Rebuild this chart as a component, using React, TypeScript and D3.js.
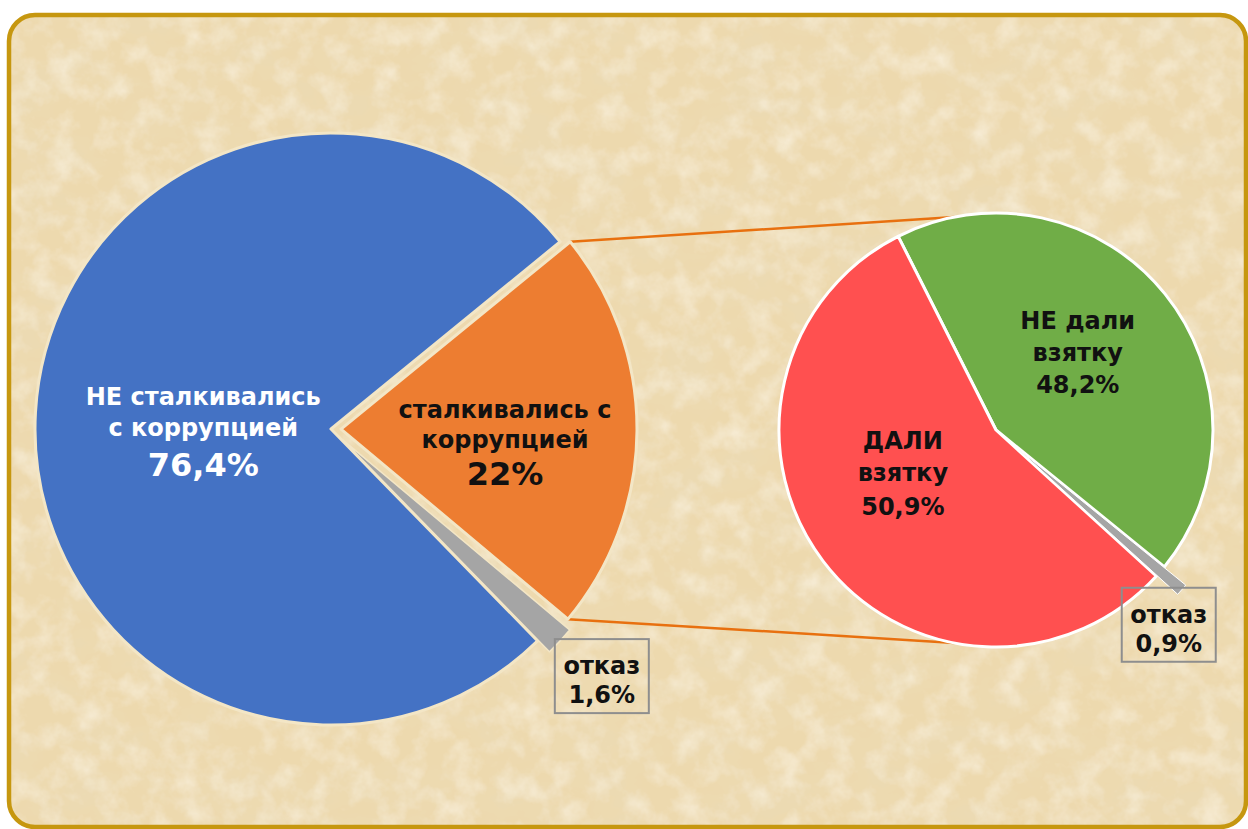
import React from 'react';
import * as d3 from 'd3';

// ---- Data ----
// Main pie: order clockwise from the exploded "other" slice
const mainNames = ['сталкивались с коррупцией', 'отказ', 'НЕ сталкивались с коррупцией'];
const mainValues = [22, 1.6, 76.4];
const mainPercentLabels = ['22%', '1,6%', '76,4%'];
const mainLabelLines = [['сталкивались с', 'коррупцией'], ['отказ'], ['НЕ сталкивались', 'с коррупцией']];

// Secondary pie (breakdown of "сталкивались с коррупцией")
const subNames = ['НЕ дали взятку', 'отказ', 'ДАЛИ взятку'];
const subPercentLabels = ['48,2%', '0,9%', '50,9%'];
// slice sizes as drawn in the picture (percentage labels are printed as above)
const subValues = [43.3, 0.9, 55.8];
const subLabelLines = [['НЕ дали', 'взятку'], ['отказ'], ['ДАЛИ', 'взятку']];

const mainColors = ['#ED7D31', '#A5A5A5', '#4472C4'];
const subColors = ['#70AD47', '#A5A5A5', '#FF5050'];

const FONT = "'DejaVu Sans', Verdana, Tahoma, sans-serif";

export default function App() {
  const W = 1248, H = 829;
  const deg = Math.PI / 180;
  const dir = (a: number) => [Math.sin(a), -Math.cos(a)];

  // main pie
  const C1 = { x: 331, y: 429 };
  const R1 = 296;
  const mainStart = 50.75 * deg;
  const mainPie = d3.pie<number>().sort(null).startAngle(mainStart).endAngle(mainStart + 2 * Math.PI)(mainValues);
  const arc1 = d3.arc<d3.PieArcDatum<number>>().innerRadius(0).outerRadius(R1);
  const mainExplode = [10, 16, 0];
  const mainCenters = mainPie.map((p, i) => {
    const m = (p.startAngle + p.endAngle) / 2;
    const [dx, dy] = dir(m);
    return { x: C1.x + dx * mainExplode[i], y: C1.y + dy * mainExplode[i], mid: m };
  });

  // secondary pie
  const C2 = { x: 996, y: 430 };
  const R2 = 217;
  const subStart = -26.8 * deg;
  const subPie = d3.pie<number>().sort(null).startAngle(subStart).endAngle(subStart + 2 * Math.PI)(subValues);
  const arc2 = d3.arc<d3.PieArcDatum<number>>().innerRadius(0).outerRadius(R2);
  const subExplode = [0, 28, 0];
  const subCenters = subPie.map((p, i) => {
    const m = (p.startAngle + p.endAngle) / 2;
    const [dx, dy] = dir(m);
    return { x: C2.x + dx * subExplode[i], y: C2.y + dy * subExplode[i], mid: m };
  });

  // connector lines from the "other" slice edges to the secondary pie
  const o = mainPie[0];
  const oc = mainCenters[0];
  const [sx1, sy1] = dir(o.startAngle);
  const [ex1, ey1] = dir(o.endAngle);
  const topA = dir(-11 * deg);
  const botA = dir(191 * deg);
  const connectors = [
    [oc.x + sx1 * R1, oc.y + sy1 * R1, C2.x + topA[0] * R2, C2.y + topA[1] * R2],
    [oc.x + ex1 * R1, oc.y + ey1 * R1, C2.x + botA[0] * R2, C2.y + botA[1] * R2],
  ];

  // label layout
  const mainLabelDist = [164, 0, 128];
  const mainLabelOffsets = [[-12, 18, 55], [], [-17, 14, 54]];
  const mainLabelSize = [[24, 24, 32], [], [24, 24, 32]];
  const mainLabelColor = ['#111', '#111', '#ffffff'];
  const subLabelDist = [105, 0, 117];
  const subLabelOffsets = [[-35, -3, 29], [], [-52, -20, 14]];

  const boxW = 94, boxH = 74;
  const tip = (centers: any[], i: number, R: number) => {
    const [dx, dy] = dir(centers[i].mid);
    return { x: centers[i].x + dx * R, y: centers[i].y + dy * R };
  };
  const t1 = tip(mainCenters, 1, R1);
  const t2 = tip(subCenters, 1, R2);
  const boxes = [
    { x: t1.x - 5, y: t1.y - 2, lines: [mainLabelLines[1][0], mainPercentLabels[1]] },
    { x: t2.x - 60, y: t2.y - 2, lines: [subLabelLines[1][0], subPercentLabels[1]] },
  ];

  const mainOrder = [2, 1, 0];
  const subOrder = [0, 2, 1];

  return (
    <svg width={W} height={H} viewBox={`0 0 ${W} ${H}`} style={{ position: 'absolute', left: 0, top: 0, display: 'block', background: '#ffffff' }}>
      <defs>
        <clipPath id="frameClip">
          <rect x={9} y={15} width={1237} height={812} rx={26} ry={26} />
        </clipPath>
        <filter id="paperTex" x="0" y="0" width="100%" height="100%">
          <feTurbulence type="fractalNoise" baseFrequency="0.014 0.022" numOctaves="5" seed="7" result="n" />
          <feColorMatrix in="n" type="matrix" values="0 0 0 0 0.83  0 0 0 0 0.71  0 0 0 0 0.47  1.5 0 0 0 -0.62" result="dark" />
          <feTurbulence type="fractalNoise" baseFrequency="0.04" numOctaves="4" seed="21" result="n2" />
          <feColorMatrix in="n2" type="matrix" values="0 0 0 0 0.99  0 0 0 0 0.95  0 0 0 0 0.85  1.0 0 0 0 -0.42" result="light" />
          <feMerge>
            <feMergeNode in="SourceGraphic" />
            <feMergeNode in="dark" />
            <feMergeNode in="light" />
          </feMerge>
        </filter>
      </defs>

      <g clipPath="url(#frameClip)">
        <rect x={9} y={15} width={1237} height={812} fill="#EDD9AE" filter="url(#paperTex)" />
      </g>
      <rect x={9} y={15} width={1237} height={812} rx={26} ry={26} fill="none" stroke="#C6970F" strokeWidth={4.5} />

      {/* connectors */}
      {connectors.map((c, i) => (
        <line key={'c' + i} x1={c[0]} y1={c[1]} x2={c[2]} y2={c[3]} stroke="#E8700F" strokeWidth={2.5} />
      ))}

      {/* main pie */}
      {mainOrder.map((i) => (
        <path key={'m' + i} d={arc1(mainPie[i]) || ''} transform={`translate(${mainCenters[i].x},${mainCenters[i].y})`}
          fill={mainColors[i]} stroke="#F3E6C6" strokeWidth={i === 1 ? 1.5 : 3} strokeLinejoin="round" />
      ))}

      {/* secondary pie */}
      {subOrder.map((i) => (
        <path key={'s' + i} d={arc2(subPie[i]) || ''} transform={`translate(${subCenters[i].x},${subCenters[i].y})`}
          fill={subColors[i]} stroke="#ffffff" strokeWidth={i === 1 ? 1 : 3} strokeLinejoin="round" />
      ))}

      {/* main labels */}
      {[0, 2].map((i) => {
        const [dx, dy] = dir(mainCenters[i].mid);
        const ax = mainCenters[i].x + dx * mainLabelDist[i];
        const ay = mainCenters[i].y + dy * mainLabelDist[i];
        const lines = [...mainLabelLines[i], mainPercentLabels[i]];
        return (
          <text key={'ml' + i} textAnchor="middle" fontFamily={FONT} fontWeight="bold" fill={mainLabelColor[i]}>
            {lines.map((l, j) => (
              <tspan key={j} x={ax} y={ay + mainLabelOffsets[i][j]} fontSize={mainLabelSize[i][j]}>{l}</tspan>
            ))}
          </text>
        );
      })}

      {/* secondary labels */}
      {[0, 2].map((i) => {
        const [dx, dy] = dir(subCenters[i].mid);
        const ax = subCenters[i].x + dx * subLabelDist[i];
        const ay = subCenters[i].y + dy * subLabelDist[i];
        const lines = [...subLabelLines[i], subPercentLabels[i]];
        return (
          <text key={'sl' + i} textAnchor="middle" fontFamily={FONT} fontWeight="bold" fill="#111" fontSize={24}>
            {lines.map((l, j) => (
              <tspan key={j} x={ax} y={ay + subLabelOffsets[i][j]}>{l}</tspan>
            ))}
          </text>
        );
      })}

      {/* callout boxes for "отказ" */}
      {boxes.map((b, i) => (
        <g key={'b' + i}>
          <rect x={b.x} y={b.y} width={boxW} height={boxH} fill="none" stroke="#8E8E8E" strokeWidth={2} />
          <text textAnchor="middle" fontFamily={FONT} fontWeight="bold" fill="#111" fontSize={24}>
            <tspan x={b.x + boxW / 2} y={b.y + 35}>{b.lines[0]}</tspan>
            <tspan x={b.x + boxW / 2} y={b.y + 64}>{b.lines[1]}</tspan>
          </text>
        </g>
      ))}
    </svg>
  );
}
